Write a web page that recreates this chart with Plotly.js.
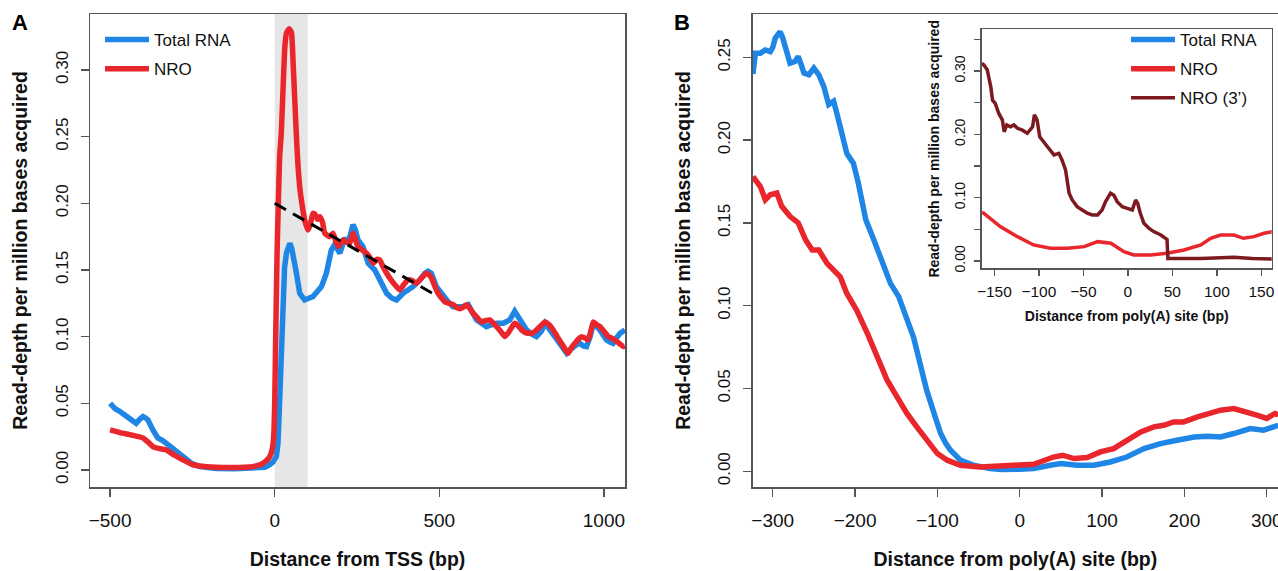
<!DOCTYPE html>
<html>
<head>
<meta charset="utf-8">
<script src="https://cdn.plot.ly/plotly-3.0.1.min.js"></script>
<style>html,body{margin:0;padding:0;overflow:hidden;background:#fff}#chart{width:1278px;height:571px}</style>
</head>
<body>
<div id="chart"></div>
<script>
// ---------- Panel A: distance from TSS ----------
const tssX_total = [-500,-485,-471,-456,-436,-421,-410,-400,-392,-385,-370,-355,-340,-329,-304,-279,-253,-228,-200,-177,-120,-80,-46,-30,-15,-5,5,10,14,18,22,26,30,36,42,46,52,58,66,76,91,105,116,130,142,157,172,182,190,198,205,213,223,232,238,245,253,268,284,304,319,330,340,355,370,390,405,420,441,456,466,476,491,512,527,542,572,588,600,613,628,643,660,674,694,714,729,737,745,765,780,795,810,821,836,851,866,877,887,897,907,917,927,937,947,958,968,978,988,998,1008,1018,1028,1038,1049,1064];
const tssTotal = [0.050,0.046,0.044,0.041,0.0375,0.035,0.038,0.040,0.039,0.0375,0.030,0.024,0.022,0.020,0.015,0.010,0.005,0.0025,0.0015,0.001,0.0008,0.001,0.0013,0.002,0.004,0.006,0.010,0.020,0.045,0.075,0.110,0.135,0.152,0.163,0.169,0.170,0.166,0.155,0.1475,0.1325,0.1275,0.129,0.130,0.134,0.1375,0.1475,0.165,0.169,0.166,0.1625,0.168,0.174,0.170,0.178,0.184,0.180,0.1725,0.1675,0.155,0.150,0.1425,0.137,0.1325,0.129,0.1275,0.1325,0.135,0.1375,0.1425,0.1475,0.149,0.1475,0.1375,0.130,0.126,0.1225,0.1225,0.124,0.119,0.1125,0.110,0.1075,0.109,0.110,0.110,0.1125,0.119,0.116,0.1125,0.105,0.102,0.100,0.104,0.110,0.105,0.100,0.095,0.090,0.0875,0.090,0.0925,0.094,0.095,0.093,0.0925,0.100,0.110,0.108,0.105,0.101,0.0975,0.096,0.095,0.099,0.1025,0.105];

const tssX_nro = [-500,-470,-431,-400,-385,-370,-350,-329,-304,-279,-250,-228,-180,-127,-90,-66,-50,-36,-25,-15,-8,-3,0,3,7,11,15,20,26,31,36,44,51,56,61,66,71,76,81,91,101,108,116,122,130,137,145,152,167,177,185,193,200,208,218,228,238,245,253,266,279,290,299,310,319,330,340,355,370,380,392,405,418,431,446,461,470,476,486,496,507,517,530,542,552,562,572,583,593,603,616,628,640,653,664,674,686,699,710,720,729,740,750,762,775,785,795,808,821,833,846,858,871,881,891,902,912,922,932,942,952,960,968,978,988,1000,1013,1023,1033,1046,1059,1064];
const tssNro = [0.030,0.028,0.026,0.024,0.021,0.0175,0.016,0.015,0.011,0.0075,0.004,0.003,0.002,0.0018,0.002,0.0025,0.0035,0.005,0.007,0.010,0.015,0.025,0.050,0.100,0.160,0.200,0.235,0.2525,0.290,0.318,0.328,0.331,0.328,0.305,0.2775,0.250,0.2275,0.212,0.2025,0.1875,0.180,0.184,0.1925,0.192,0.188,0.190,0.186,0.1775,0.175,0.1775,0.172,0.1675,0.170,0.1725,0.171,0.170,0.1775,0.173,0.1675,0.165,0.1625,0.159,0.155,0.158,0.1575,0.152,0.1475,0.142,0.1375,0.135,0.139,0.1425,0.142,0.140,0.144,0.1475,0.146,0.144,0.138,0.1325,0.129,0.126,0.125,0.124,0.122,0.121,0.122,0.124,0.121,0.1175,0.114,0.111,0.112,0.1125,0.110,0.1075,0.104,0.100,0.103,0.107,0.110,0.108,0.105,0.103,0.1025,0.103,0.105,0.108,0.111,0.109,0.105,0.100,0.095,0.091,0.0875,0.092,0.095,0.098,0.100,0.099,0.0975,0.104,0.111,0.109,0.1075,0.104,0.100,0.099,0.0975,0.095,0.0925,0.093];

const trendX = [0, 490];
const trendY = [0.200, 0.131];
const shadeX = [0, 100];

// ---------- Panel B: distance from poly(A) site ----------
const polyX_total = [-324,-321,-315,-309,-303,-300,-297,-291,-288,-285,-279,-273,-269,-265,-262,-256,-250,-244,-238,-232,-226,-222,-218,-210,-206,-202,-196,-192,-187,-177,-167,-157,-147,-137,-129,-121,-113,-104,-96,-90,-84,-72,-56,-36,-23,0,17,37,50,70,90,110,130,151,171,191,212,228,244,260,280,296,314];
const polyTotal = [0.240,0.2525,0.2525,0.2545,0.2535,0.256,0.2615,0.2655,0.262,0.2565,0.2465,0.2475,0.2505,0.245,0.2405,0.2395,0.2435,0.2395,0.2325,0.2215,0.2235,0.216,0.208,0.192,0.189,0.186,0.174,0.163,0.152,0.1395,0.1255,0.1135,0.1055,0.093,0.081,0.065,0.049,0.035,0.0228,0.017,0.0127,0.0067,0.0036,0.0016,0.001,0.0012,0.0016,0.0036,0.0047,0.0036,0.0036,0.0056,0.0086,0.0137,0.0167,0.0187,0.0207,0.0212,0.0207,0.0228,0.0258,0.0248,0.0278];

const polyX_nro = [-324,-315,-309,-303,-295,-289,-279,-269,-260,-252,-244,-234,-226,-218,-210,-198,-185,-173,-161,-149,-137,-125,-113,-100,-88,-72,-48,-23,0,17,29,41,52,66,82,98,114,130,147,163,175,187,199,216,232,244,260,276,288,300,310,314];
const polyNro = [0.178,0.172,0.164,0.167,0.168,0.160,0.154,0.150,0.1397,0.1336,0.1336,0.1256,0.1215,0.1175,0.1074,0.0973,0.0833,0.0691,0.055,0.0449,0.0349,0.0268,0.0187,0.0107,0.0067,0.0036,0.0026,0.0036,0.0038,0.0042,0.0067,0.0086,0.0097,0.0077,0.0083,0.0117,0.0137,0.0187,0.0238,0.0268,0.0278,0.0298,0.0298,0.0328,0.0349,0.0369,0.0379,0.0359,0.0339,0.0319,0.0349,0.034];

// ---------- Inset ----------
const insetX_nro = [-164,-162,-143,-124,-106,-87,-68,-49,-34,-19,-4.5,6.7,25.5,44,63,82,93,104,119,130,141.6,153,163];
const insetNro = [0.077,0.0754,0.054,0.0384,0.0253,0.020,0.020,0.0226,0.0305,0.028,0.0147,0.0095,0.0095,0.0122,0.0174,0.0253,0.0358,0.041,0.041,0.0358,0.0384,0.0438,0.0465];

const insetX_nro3 = [-164,-162,-158,-154,-152,-149,-145,-141,-139,-136,-132,-128,-124,-119,-113,-107,-105,-102,-99,-94,-89,-83,-77.5,-74,-70,-66,-62.5,-57,-51,-45.6,-40,-34,-29,-25,-19.4,-15.7,-12,-6.3,-0.7,5,8.7,11,14,18,23.6,29,37,42,44,45,46,82,119,140,163];
const insetNro3 = [0.312,0.310,0.302,0.275,0.254,0.249,0.233,0.223,0.204,0.215,0.212,0.215,0.2096,0.207,0.2017,0.212,0.231,0.223,0.196,0.186,0.178,0.1675,0.170,0.1596,0.1438,0.107,0.0964,0.0858,0.0806,0.0754,0.0727,0.0727,0.0806,0.0937,0.107,0.104,0.0937,0.0858,0.0832,0.0806,0.0964,0.0911,0.0754,0.0596,0.0517,0.0464,0.041,0.0358,0.034,0.004,0.0043,0.004,0.006,0.004,0.003];

const seriesNames = ['Total RNA', 'NRO', 'NRO (3\u2019)'];
const yTitle = 'Read-depth per million bases acquired';

// ---------- styling ----------
const BLUE = '#1f86e6', RED = '#e8262c', DARK = '#7c1a20';
const FONT = 'Liberation Sans, Arial, Helvetica, sans-serif';
const AX = '#555';
const W = 1278, H = 571;
const px = v => v / W, py = v => 1 - v / H;

const traces = [
  {x: tssX_total, y: tssTotal, name: seriesNames[0], type: 'scatter', mode: 'lines', xaxis: 'x', yaxis: 'y',
   line: {color: BLUE, width: 5.5}, legend: 'legend', legendgroup: 'a1'},
  {x: tssX_nro, y: tssNro, name: seriesNames[1], type: 'scatter', mode: 'lines', xaxis: 'x', yaxis: 'y',
   line: {color: RED, width: 5.5, shape: 'spline', smoothing: 0.4}, legend: 'legend', legendgroup: 'a2'},
  {x: trendX, y: trendY, type: 'scatter', mode: 'lines', xaxis: 'x', yaxis: 'y', showlegend: false,
   line: {color: '#000', width: 3, dash: '13px,8px'}},
  {x: polyX_total, y: polyTotal, name: seriesNames[0], type: 'scatter', mode: 'lines', xaxis: 'x2', yaxis: 'y2',
   line: {color: BLUE, width: 5.5}, legend: 'legend2', legendgroup: 'b1'},
  {x: polyX_nro, y: polyNro, name: seriesNames[1], type: 'scatter', mode: 'lines', xaxis: 'x2', yaxis: 'y2',
   line: {color: RED, width: 5.5}, legend: 'legend2', legendgroup: 'b2'},
  {x: insetX_nro, y: insetNro, name: seriesNames[1], type: 'scatter', mode: 'lines', xaxis: 'x3', yaxis: 'y3',
   line: {color: RED, width: 3.5}, showlegend: false},
  {x: insetX_nro3, y: insetNro3, name: seriesNames[2], type: 'scatter', mode: 'lines', xaxis: 'x3', yaxis: 'y3',
   line: {color: DARK, width: 3.5}, legend: 'legend2', legendgroup: 'b3'}
];

function axisBase(extra) {
  return Object.assign({
    showgrid: false, zeroline: false, showline: true, linecolor: AX, linewidth: 1.5,
    ticks: 'outside', ticklen: 8, tickwidth: 1.5, tickcolor: AX, ticklabeloverflow: 'allow',
    tickfont: {family: FONT, size: 19, color: '#111'}, automargin: false
  }, extra);
}

const layout = {
  width: W, height: H,
  margin: {l: 0, r: 0, t: 0, b: 0},
  paper_bgcolor: '#fff', plot_bgcolor: 'rgba(0,0,0,0)',
  font: {family: FONT, color: '#111'},
  xaxis: axisBase({domain: [px(90), px(625)], range: [-561, 1064], dtick: 500, tick0: 0, mirror: true, anchor: 'y',
    ticklabelstandoff: 8,
    title: {text: 'Distance from TSS (bp)', font: {family: FONT, size: 19.5, weight: 'bold', color: '#111'}, standoff: 22}}),
  yaxis: axisBase({domain: [py(487), py(14)], range: [-0.0128, 0.342], dtick: 0.05, tick0: 0, tickformat: '.2f', mirror: true,
    anchor: 'x', tickangle: -90, tickfont: {family: FONT, size: 17, color: '#111'}, ticklabelstandoff: 6,
    title: {text: yTitle, font: {family: FONT, size: 19.5, weight: 'bold', color: '#111'}, standoff: 20}}),
  xaxis2: axisBase({domain: [px(752.7), 1], range: [-324.3, 313.7], dtick: 100, tick0: 0, mirror: true, anchor: 'y2',
    ticklabelstandoff: 8,
    title: {text: 'Distance from poly(A) site (bp)', font: {family: FONT, size: 19.5, weight: 'bold', color: '#111'}, standoff: 22}}),
  yaxis2: axisBase({domain: [py(487), py(14)], range: [-0.0095, 0.2762], dtick: 0.05, tick0: 0, tickformat: '.2f', mirror: false,
    anchor: 'x2', tickangle: -90, tickfont: {family: FONT, size: 17, color: '#111'}, ticklabelstandoff: 6,
    title: {text: yTitle, font: {family: FONT, size: 19.5, weight: 'bold', color: '#111'}, standoff: 19}}),
  xaxis3: axisBase({domain: [px(981.7), px(1271.7)], range: [-164.2, 161.6], dtick: 50, tick0: 0, mirror: true, anchor: 'y3',
    ticklen: 6, tickfont: {family: FONT, size: 15.5, color: '#111'}, ticklabelstandoff: 3,
    title: {text: 'Distance from poly(A) site (bp)', font: {family: FONT, size: 14, weight: 'bold', color: '#111'}, standoff: 12}}),
  yaxis3: axisBase({domain: [py(268.3), py(29.3)], range: [-0.0116, 0.366], dtick: 0.1, tick0: 0, tickformat: '.2f', mirror: true,
    anchor: 'x3', ticklen: 6, tickangle: -90, tickfont: {family: FONT, size: 14, color: '#111'}, ticklabelstandoff: 4,
    minor: {dtick: 0.05, ticklen: 6, tickwidth: 1.5, tickcolor: AX, ticks: 'outside', showgrid: false},
    title: {text: yTitle, font: {family: FONT, size: 14, weight: 'bold', color: '#111'}, standoff: 8}}),
  legend: {x: px(100), y: py(22), xanchor: 'left', yanchor: 'top', bgcolor: 'rgba(0,0,0,0)',
    font: {family: FONT, size: 17, color: '#111'}, tracegroupgap: 4, itemwidth: 44, traceorder: 'grouped'},
  legend2: {x: px(1126), y: py(22), xanchor: 'left', yanchor: 'top', bgcolor: 'rgba(0,0,0,0)',
    font: {family: FONT, size: 17, color: '#111'}, tracegroupgap: 4, itemwidth: 44, traceorder: 'grouped'},
  shapes: [
    {type: 'rect', xref: 'x', yref: 'y domain', x0: shadeX[0], x1: shadeX[1], y0: 0, y1: 1,
     fillcolor: '#e6e6e6', line: {width: 0}, layer: 'below'}
  ],
  annotations: [
    {text: '<b>A</b>', xref: 'paper', yref: 'paper', x: px(10), y: py(8), xanchor: 'left', yanchor: 'top',
     showarrow: false, font: {family: FONT, size: 22, color: '#000'}},
    {text: '<b>B</b>', xref: 'paper', yref: 'paper', x: px(672), y: py(8), xanchor: 'left', yanchor: 'top',
     showarrow: false, font: {family: FONT, size: 22, color: '#000'}}
  ]
};

Plotly.newPlot('chart', traces, layout, {displayModeBar: false, staticPlot: true});
</script>
</body>
</html>
